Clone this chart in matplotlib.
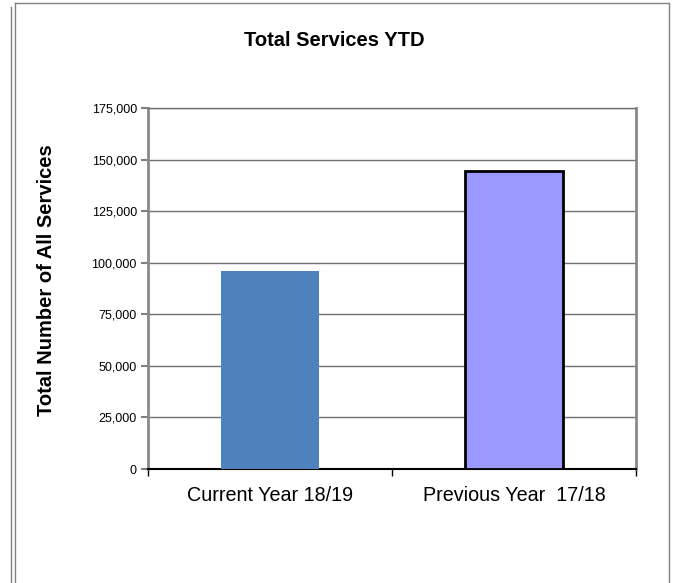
import matplotlib
matplotlib.use("Agg")
import matplotlib.pyplot as plt
from matplotlib.lines import Line2D
from matplotlib.ticker import FuncFormatter

categories = ["Current Year 18/19", "Previous Year  17/18"]
values = [96000, 144500]
yticks = [0, 25000, 50000, 75000, 100000, 125000, 150000, 175000]

plt.rcParams['font.family'] = ['Liberation Sans', 'DejaVu Sans']

W, H = 679, 583
fig = plt.figure(figsize=(W / 100, H / 100), dpi=100)
fig.patch.set_facecolor('white')

ax = fig.add_axes([148 / W, 1 - 469 / H, 488 / W, 361 / H])

x = list(range(len(categories)))
ax.bar(x[0], values[0], width=0.4, color='#4F81BD', edgecolor='none', zorder=3)
ax.bar(x[1], values[1], width=0.4, color='#9999FF', edgecolor='black', linewidth=2, zorder=3)

ax.set_xlim(-0.5, 1.5)
ax.set_ylim(0, 175000)
ax.set_yticks(yticks)
ax.yaxis.set_major_formatter(FuncFormatter(lambda v, p: f"{int(v):,}"))
ax.tick_params(axis='y', labelsize=9, length=5, color='#808080', width=1.5, pad=3)
ax.yaxis.grid(True, color='#707070', linewidth=1, zorder=0)

ax.set_xticks([-0.5, 0.5, 1.5])
ax.set_xticklabels([])
ax.set_xticks(x, minor=True)
ax.set_xticklabels(categories, minor=True, fontsize=14.2)
ax.tick_params(axis='x', which='major', length=5, color='black', width=1)
ax.tick_params(axis='x', which='minor', length=0, pad=12)

for s in ['left', 'right', 'top']:
    ax.spines[s].set_color('#8a8a8a')
    ax.spines[s].set_linewidth(2)
ax.spines['top'].set_color('#707070')
ax.spines['top'].set_linewidth(1)
ax.spines['bottom'].set_color('black')
ax.spines['bottom'].set_linewidth(1.5)
ax.set_axisbelow(True)

fig.text(334 / W, 1 - 40 / H, "Total Services YTD", ha='center', va='center',
         fontsize=14.5, fontweight='bold')
fig.text(47 / W, 1 - 280 / H, "Total Number of All Services", ha='center', va='center',
         rotation=90, fontsize=14.5, fontweight='bold')

def fl(x0, y0, x1, y1):
    fig.add_artist(Line2D([x0 / W, x1 / W], [1 - y0 / H, 1 - y1 / H],
                          transform=fig.transFigure, color='#808080', linewidth=1))

fl(10.5, 7, 10.5, 583)
fl(14.5, 2.5, 14.5, 583)
fl(14.5, 2.5, 668.5, 2.5)
fl(668.5, 2.5, 668.5, 583)

fig.savefig("out.png", dpi=100)
